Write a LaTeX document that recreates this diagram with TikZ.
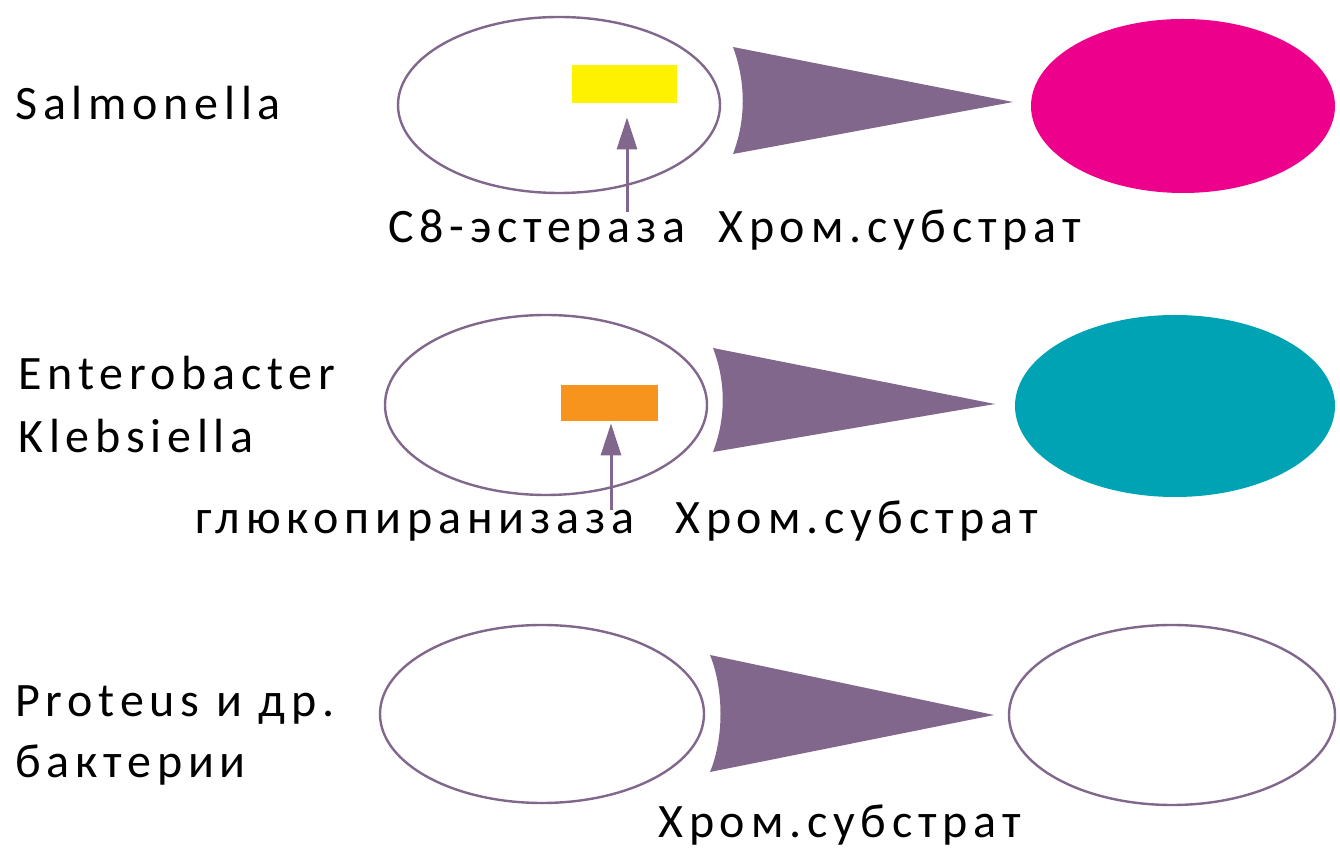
\documentclass[tikz,border=0pt]{standalone}
\usepackage{fontspec}
\setmainfont{Carlito}[LetterSpace=12]
\usetikzlibrary{arrows.meta, shapes.geometric, calc}
\definecolor{plum}{RGB}{130,103,140}
\definecolor{dyemagenta}{RGB}{236,0,140}
\definecolor{dyeteal}{RGB}{0,163,180}
\definecolor{dyeyellow}{RGB}{255,242,0}
\definecolor{dyeorange}{RGB}{247,148,29}
\tikzset{
  cell/.style={ellipse, draw=plum, line width=1.2pt, inner sep=0pt, minimum width=161pt, minimum height=89pt},
  spot/.style={ellipse, fill=#1, inner sep=0pt, minimum width=152pt, minimum height=87pt},
  enz/.style={fill=#1, inner sep=0pt, minimum width=52pt, minimum height=19pt},
  lbl/.style={anchor=base west, inner sep=0pt, font=\fontsize{24}{28}\selectfont},
  probe/.style={draw=plum, line width=1.5pt, -{Triangle[length=16pt, width=10pt]}},
  wedge/.style={fill=plum},
}
\begin{document}
\begin{tikzpicture}[x=0.5pt, y=-0.5pt]
  \useasboundingbox (0,0) rectangle (1340,849);
  % row 1
  \node[lbl] (salmlbl) at (15,120) {Salmonella};
  \node[cell, minimum width=161pt, minimum height=88pt] (salm) at (559,105) {};
  \node[enz=dyeyellow, minimum width=52.5pt] (c8) at (624.5,84) {};
  \fill[wedge] (733,47) .. controls (746,82) and (746,120) .. (733,154) -- (1013,102) -- cycle;
  \node[spot=dyemagenta] (salmres) at (1183,106) {};
  \node[lbl] (c8lbl) at (388,243) {C8-эстераза};
  \node[lbl] (sub1) at (718,243) {Хром.субстрат};
  \coordinate (c8foot) at (627,212);
  \draw[probe, shorten >=7pt] (c8foot) -- (c8.south -| c8foot);
  % row 2
  \node[lbl] (entlbl) at (18,390) {Enterobacter};
  \node[lbl] (klblbl) at (18,453) {Klebsiella};
  \node[cell, minimum width=161pt, minimum height=90pt] (entero) at (546,405) {};
  \node[enz=dyeorange, minimum width=48.5pt, minimum height=18pt] (gluco) at (609.5,403) {};
  \fill[wedge] (713,348) .. controls (726,382) and (726,418) .. (713,452) -- (995,404) -- cycle;
  \node[spot=dyeteal, minimum width=160pt, minimum height=91pt] (enterores) at (1175,406) {};
  \node[lbl] (glulbl) at (195,534) {глюкопиранизаза};
  \node[lbl] (sub2) at (675,534) {Хром.субстрат};
  \coordinate (glufoot) at (611,510);
  \draw[probe, shorten >=1pt] (glufoot) -- (gluco.south -| glufoot);
  % row 3
  \node[lbl] (protlbl) at (15,717) {Proteus и др.};
  \node[lbl] (baktlbl) at (15,778) {бактерии};
  \node[cell, minimum width=162pt, minimum height=89pt] (prot) at (542,714) {};
  \fill[wedge] (710,655) .. controls (724,690) and (724,738) .. (710,772) -- (994,715) -- cycle;
  \node[cell, minimum width=163pt, minimum height=90pt] (protres) at (1172,715) {};
  \node[lbl] (sub3) at (658,838) {Хром.субстрат};
\end{tikzpicture}
\end{document}
